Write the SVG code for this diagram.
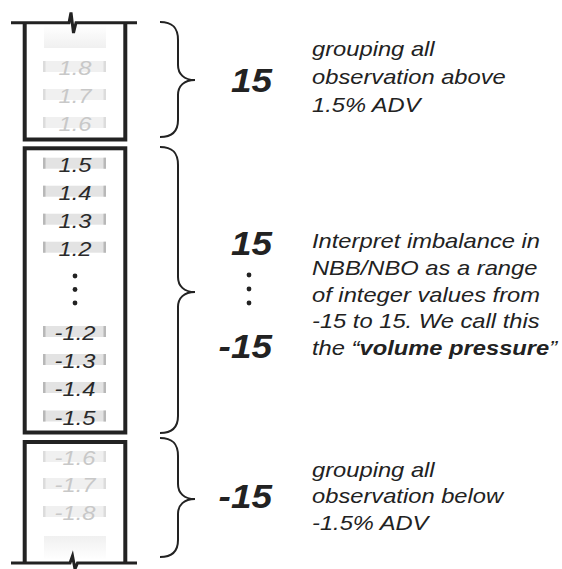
<svg xmlns="http://www.w3.org/2000/svg" width="562" height="569" viewBox="0 0 562 569">
<style>
.box{fill:none;stroke:#222;stroke-width:4}
.edge{fill:none;stroke:#222;stroke-width:3;stroke-linejoin:miter}
.brace{fill:none;stroke:#222;stroke-width:2}
.lbl{font-family:"Liberation Sans",Arial,sans-serif;font-style:italic;font-size:21px;text-anchor:middle}
.dark{fill:#2a2a2a}
.faint{fill:#c8c8c8}
.band{fill:#e3e3e3}
.bandf{fill:#f0f0f0}
.bar{fill:#b8b8b8}
.barf{fill:#dcdcdc}
.num{font-family:"Liberation Sans",Arial,sans-serif;font-style:italic;font-weight:bold;font-size:33px;fill:#222;text-anchor:end}
.note{font-family:"Liberation Sans",Arial,sans-serif;font-style:italic;font-size:21px;fill:#222}
.dot{fill:#222}
</style>
<defs>
<linearGradient id="fadeTop" x1="0" y1="0" x2="0" y2="1">
<stop offset="0" stop-color="#ffffff"/>
<stop offset="1" stop-color="#f0f0f0"/>
</linearGradient>
<linearGradient id="fadeBot" x1="0" y1="0" x2="0" y2="1">
<stop offset="0" stop-color="#f0f0f0"/>
<stop offset="1" stop-color="#ffffff"/>
</linearGradient>
<g id="bandF"><rect x="43" y="-14" width="63" height="11" class="bandf"/><rect x="43" y="-14" width="2.5" height="11" class="barf"/><rect x="103.5" y="-14" width="2.5" height="11" class="barf"/></g>
<g id="bandD"><rect x="43" y="-14" width="63" height="11" class="band"/><rect x="43" y="-14" width="2.5" height="11" class="bar"/><rect x="103.5" y="-14" width="2.5" height="11" class="bar"/></g>
</defs>

<g id="topBox">
<rect x="44" y="25" width="62" height="23" fill="url(#fadeTop)"/>
<path class="edge" d="M11,22.7 H69 L71,12.5 L73.5,33 L76,22.7 H137"/>
<path class="box" d="M24.7,22.7 V139.5 H125.3 V22.7"/>
<g><use href="#bandF" transform="translate(0,75)"/><text class="lbl faint" transform="translate(75,75) scale(1.13,1)">1.8</text></g>
<g><use href="#bandF" transform="translate(0,103)"/><text class="lbl faint" transform="translate(75,103) scale(1.13,1)">1.7</text></g>
<g><use href="#bandF" transform="translate(0,131)"/><text class="lbl faint" transform="translate(75,131) scale(1.13,1)">1.6</text></g>
</g>

<g id="midBox">
<rect class="box" x="24.7" y="148.3" width="100.6" height="284.2"/>
<g><use href="#bandD" transform="translate(0,171.7)"/><text class="lbl dark" transform="translate(75,171.7) scale(1.13,1)">1.5</text></g>
<g><use href="#bandD" transform="translate(0,199.7)"/><text class="lbl dark" transform="translate(75,199.7) scale(1.13,1)">1.4</text></g>
<g><use href="#bandD" transform="translate(0,227.7)"/><text class="lbl dark" transform="translate(75,227.7) scale(1.13,1)">1.3</text></g>
<g><use href="#bandD" transform="translate(0,255.7)"/><text class="lbl dark" transform="translate(75,255.7) scale(1.13,1)">1.2</text></g>
<circle class="dot" cx="75" cy="276" r="2.4"/>
<circle class="dot" cx="75" cy="289.5" r="2.4"/>
<circle class="dot" cx="75" cy="303" r="2.4"/>
<g><use href="#bandD" transform="translate(0,340)"/><text class="lbl dark" transform="translate(75,340) scale(1.13,1)">-1.2</text></g>
<g><use href="#bandD" transform="translate(0,368)"/><text class="lbl dark" transform="translate(75,368) scale(1.13,1)">-1.3</text></g>
<g><use href="#bandD" transform="translate(0,396)"/><text class="lbl dark" transform="translate(75,396) scale(1.13,1)">-1.4</text></g>
<g><use href="#bandD" transform="translate(0,424.5)"/><text class="lbl dark" transform="translate(75,424.5) scale(1.13,1)">-1.5</text></g>
</g>

<g id="botBox">
<rect x="44" y="536" width="62" height="24" fill="url(#fadeBot)"/>
<path class="box" d="M24.7,563 V442 H125.3 V563"/>
<path class="edge" d="M11,563 H70 L72.5,556 L75,569 L77.5,563 H137"/>
<g><use href="#bandF" transform="translate(0,465)"/><text class="lbl faint" transform="translate(75,465) scale(1.13,1)">-1.6</text></g>
<g><use href="#bandF" transform="translate(0,492)"/><text class="lbl faint" transform="translate(75,492) scale(1.13,1)">-1.7</text></g>
<g><use href="#bandF" transform="translate(0,520)"/><text class="lbl faint" transform="translate(75,520) scale(1.13,1)">-1.8</text></g>
</g>

<g id="connectors">
<path class="brace" d="M160,22 C172,22 178,27 178,40 L178,65 C178,74 184,80 195,80 C184,80 178,86 178,95 L178,120 C178,132 172,137 160,137"/>
<path class="brace" d="M160,147 C172,147 178,152 178,165 L178,277 C178,286 184,292 195,292 C184,292 178,298 178,307 L178,416 C178,428 172,433 160,433"/>
<path class="brace" d="M160,438 C172,438 178,443 178,456 L178,484 C178,493 184,499 195,499 C184,499 178,505 178,514 L178,540 C178,552 172,557 160,557"/>
</g>

<g id="valTop"><text class="num" transform="translate(272,92) scale(1.12,1)">15</text></g>
<g id="valMid">
<text class="num" transform="translate(272,255) scale(1.12,1)">15</text>
<circle class="dot" cx="249" cy="275" r="2.4"/>
<circle class="dot" cx="249" cy="289" r="2.4"/>
<circle class="dot" cx="249" cy="303" r="2.4"/>
<text class="num" transform="translate(272,358) scale(1.12,1)">-15</text>
</g>
<g id="valBot"><text class="num" transform="translate(272,508) scale(1.12,1)">-15</text></g>

<g id="noteTop">
<text class="note" transform="translate(312,0) scale(1.13,1)"><tspan x="0" y="56">grouping all</tspan><tspan x="0" y="84">observation above</tspan><tspan x="0" y="111.7">1.5% ADV</tspan></text>
</g>
<g id="noteMid">
<text class="note" transform="translate(312,0) scale(1.13,1)"><tspan x="0" y="248">Interpret imbalance in</tspan><tspan x="0" y="275">NBB/NBO as a range</tspan><tspan x="0" y="302">of integer values from</tspan><tspan x="0" y="328.5">-15 to 15. We call this</tspan><tspan x="0" y="355">the “<tspan font-weight="bold">volume pressure</tspan>”</tspan></text>
</g>
<g id="noteBot">
<text class="note" transform="translate(312,0) scale(1.13,1)"><tspan x="0" y="477">grouping all</tspan><tspan x="0" y="503.5">observation below</tspan><tspan x="0" y="530">-1.5% ADV</tspan></text>
</g>
</svg>
